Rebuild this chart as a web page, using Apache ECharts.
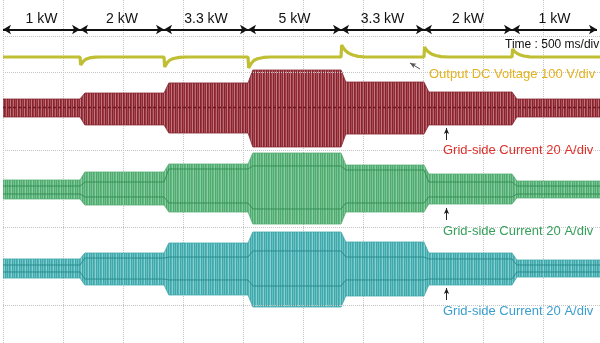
<!DOCTYPE html>
<html><head><meta charset="utf-8">
<script src="https://cdn.jsdelivr.net/npm/echarts@6/dist/echarts.min.js"></script>
<style>html,body{margin:0;padding:0;background:#fff}#c{width:600px;height:343px}</style>
</head><body><div id="c"></div>
<script>
// Time axis in ms (500 ms/div); vertical axis in screen divisions
const segmentLabels = ['1 kW','2 kW','3.3 kW','5 kW','3.3 kW','2 kW','1 kW'];
const segmentEdges = [0, 642, 1342, 2042, 2817, 3508, 4242, 4950];
const traceEnd = 4975;
const rampMs = 40;
const gridDivs = [0, 1, 2, 3];

// Output DC voltage trace [ms, div]
const dcVoltage = [
 [0,3.2],[642,3.2],[647,3.097],[655,3.115],[670,3.145],[690,3.17],[720,3.188],[770,3.198],[820,3.2],
 [1342,3.2],[1347,3.071],[1355,3.095],[1370,3.13],[1390,3.16],[1420,3.18],[1470,3.195],[1530,3.2],
 [2042,3.2],[2047,3.058],[2055,3.08],[2070,3.12],[2090,3.155],[2120,3.178],[2170,3.194],[2230,3.2],
 [2817,3.2],[2822,3.355],[2835,3.32],[2855,3.28],[2880,3.25],[2915,3.225],[2960,3.208],[3020,3.2],
 [3508,3.2],[3513,3.329],[3525,3.3],[3545,3.265],[3570,3.24],[3605,3.22],[3650,3.205],[3710,3.2],
 [4242,3.2],[4247,3.303],[4260,3.275],[4280,3.25],[4305,3.23],[4340,3.213],[4390,3.202],[4450,3.2],
 [4975,3.2]
];

// Grid-side current envelopes per load segment (div)
const redUpper   = [2.658, 2.735, 2.865, 3.032, 2.877, 2.748, 2.658];
const redLower   = [2.426, 2.323, 2.219, 2.039, 2.206, 2.323, 2.426];
const redCenter  = 2.548;

const greenUpper = [1.613, 1.716, 1.819, 1.961, 1.806, 1.690, 1.600];
const greenLower = [1.368, 1.290, 1.200, 1.045, 1.200, 1.303, 1.381];
const greenRailUp = [1.535, 1.587, 1.755, 1.794, 1.742, 1.587, 1.535];
const greenRailLo = [1.432, 1.394, 1.316, 1.239, 1.316, 1.394, 1.432];

const cyanUpper  = [0.594, 0.671, 0.800, 0.942, 0.813, 0.671, 0.581];
const cyanLower  = [0.348, 0.258, 0.129, -0.026, 0.116, 0.258, 0.361];
const cyanRailUp = [0.516, 0.606, 0.619, 0.697, 0.619, 0.594, 0.516];
const cyanRailLo = [0.426, 0.335, 0.323, 0.245, 0.323, 0.335, 0.426];

// annotation pointer arrows [ms, div]
const pointerArrows = [
  {from:[3475,3.045], to:[3392,3.123], color:'#555'},
  {from:[3696,2.129], to:[3696,2.284], color:'#222'},
  {from:[3696,1.097], to:[3696,1.252], color:'#222'},
  {from:[3696,0.0645], to:[3696,0.219], color:'#222'}
];

function steps(vals){
  const pts=[];
  for(let i=0;i<vals.length;i++){
    const s = i===0 ? 0 : segmentEdges[i]+rampMs;
    const e = i===vals.length-1 ? traceEnd : segmentEdges[i+1];
    pts.push([s, vals[i]]); pts.push([e, vals[i]]);
  }
  return pts;
}
function stripe(cols){
  const c=document.createElement('canvas'); c.width=cols.length; c.height=4;
  const g=c.getContext('2d'); cols.forEach((col,i)=>{g.fillStyle=col; g.fillRect(i,0,1,4);});
  return {image:c, repeat:'repeat'};
}
const redPat = stripe(['#8a222c','#a84a54','#8f2a34','#c07880','#88242e','#9c3a44','#b86a72']);
const greenPat = stripe(['#4fac70','#7cc596','#52ab72','#62b77f','#8ecda4','#4daa6e','#72c08c']);
const cyanPat = stripe(['#3ea9ac','#72c5c7','#42a8ab','#54b3b5','#8ad0d1','#3da7aa','#66bfc1']);

function band(up, lo, pat, edge){
  const upPts = steps(up), loPts = steps(lo);
  return {type:'custom', silent:true, z:3, clip:true,
    data: upPts,
    renderItem: function(params, api){
      if(params.dataIndex!==0) return null;
      const pts = upPts.map(p=>api.coord(p)).concat(loPts.slice().reverse().map(p=>api.coord(p)));
      return {type:'polygon', shape:{points:pts, smooth:0}, style:{fill:pat, stroke:edge, lineWidth:0.8}};
    }};
}
function rail(vals, color, type){
  return {type:'line', data:steps(vals), symbol:'none', silent:true, z:4,
    lineStyle:{width:1, color:color, type:type||'solid', opacity:0.85}};
}

const arrowY = 3.555;
const frameTop = 3.471;
const series = [];
series.push(band(redUpper, redLower, redPat, '#862530'));
series.push({type:'line', data:[[0,redCenter],[traceEnd,redCenter]], symbol:'none', silent:true, z:4,
  lineStyle:{width:1.5,color:'#701820',type:[3,2]}});
series.push(band(greenUpper, greenLower, greenPat, '#55ad73'));
series.push(rail(greenRailUp,'#2f8a4f'), rail(greenRailLo,'#2f8a4f'));
series.push(band(cyanUpper, cyanLower, cyanPat, '#42aaad'));
series.push(rail(cyanRailUp,'#23868a'), rail(cyanRailLo,'#23868a'));
series.push({type:'line', data:dcVoltage, symbol:'none', silent:true, z:5,
  lineStyle:{width:3.2,color:'#c0bf34'}});
// grid, frame, boundaries, arrows
const gridData = [];
gridDivs.forEach(v=>gridData.push([{coord:[0,v]},{coord:[traceEnd,v]}]));
gridData.push([{coord:[0,frameTop]},{coord:[traceEnd,frameTop]}]);
series.push({type:'line', data:[], silent:true, z:1,
  markLine:{silent:true, symbol:'none', label:{show:false}, animation:false,
    lineStyle:{color:'#c4c4c4', type:'dotted', width:1}, data:gridData}});
const mlData = [];
for(let i=1;i<segmentEdges.length-1;i++){
  mlData.push([{coord:[segmentEdges[i],arrowY], lineStyle:{color:'#999',type:[2,2],width:1}, symbol:'none'},
               {coord:[segmentEdges[i],-0.6], symbol:'none'}]);
}
for(let i=0;i<segmentLabels.length;i++){
  mlData.push([{coord:[segmentEdges[i],arrowY], name:segmentLabels[i],
     lineStyle:{color:'#111',width:1.8,type:'solid'}, symbol:'arrow', symbolSize:[7,8],
     label:{show:true, formatter:'{b}', position:'middle', distance:3, color:'#111',
            fontSize:14, fontFamily:'Liberation Sans, Arial, sans-serif'}},
     {coord:[segmentEdges[i+1],arrowY], symbol:'arrow', symbolSize:[7,8]}]);
}
pointerArrows.forEach(a=>{
  mlData.push([{coord:a.from, symbol:'none', lineStyle:{color:a.color,width:1,type:'solid'}},
               {coord:a.to, symbol:'arrow', symbolSize:[4,6]}]);
});
series.push({type:'line', data:[], silent:true, z:6,
  markLine:{silent:true, symbol:'none', label:{show:false}, animation:false, data:mlData}});

const chart = echarts.init(document.getElementById('c'), null, {renderer:'canvas'});
const ff = 'Liberation Sans, Arial, sans-serif';
chart.setOption({
  animation:false,
  backgroundColor:'#fff',
  grid:{left:3, top:0, width:597, height:343, containLabel:false},
  xAxis:{type:'value', min:0, max:traceEnd, interval:500,
    axisLine:{show:false}, axisTick:{show:false}, axisLabel:{show:false},
    splitLine:{show:true, lineStyle:{color:'#c4c4c4', type:'dotted', width:1}}},
  yAxis:{type:'value', min:-38/77.5, max:305/77.5,
    axisLine:{show:false}, axisTick:{show:false}, axisLabel:{show:false},
    splitLine:{show:false}},
  series: series,
  graphic:[
    {type:'text', z:10, style:{x:505, y:45, text:'Time : 500 ms/div', fill:'#111', font:'12px '+ff, verticalAlign:'middle'}},
    {type:'text', z:10, style:{x:429, y:74, text:'Output DC Voltage 100 V/div', fill:'#e3b21f', font:'13px '+ff, verticalAlign:'middle'}},
    {type:'text', z:10, style:{x:443, y:150, text:'Grid-side Current 20 A/div', fill:'#e0302a', font:'13px '+ff, verticalAlign:'middle'}},
    {type:'text', z:10, style:{x:443, y:231, text:'Grid-side Current 20 A/div', fill:'#35a05a', font:'13px '+ff, verticalAlign:'middle'}},
    {type:'text', z:10, style:{x:443, y:311, text:'Grid-side Current 20 A/div', fill:'#3a9ed0', font:'13px '+ff, verticalAlign:'middle'}}
  ]
});
</script></body></html>
